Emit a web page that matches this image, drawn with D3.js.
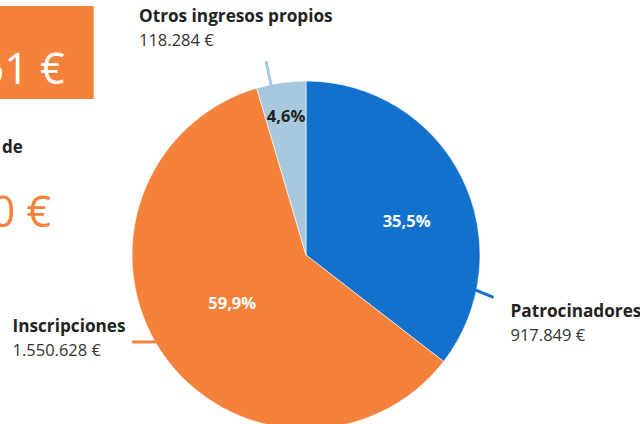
<!DOCTYPE html>
<html>
<head>
<meta charset="utf-8">
<script src="https://cdn.jsdelivr.net/npm/d3@7"></script>
<style>
  html, body { margin: 0; padding: 0; background: #fff; }
  svg { display: block; font-family: "Open Sans", sans-serif; }
</style>
</head>
<body>
<svg id="chart" width="640" height="424"></svg>
<script>
// ---- data ----
const categories = ["Patrocinadores", "Inscripciones", "Otros ingresos propios"];
const values = [917849, 1550628, 118284];
const colors = ["#1271cd", "#f5823a", "#a7c8dd"];
const percentLabelColors = ["#ffffff", "#ffffff", "#222222"];
const totalText = "2.586.761 €";
const subtitleText = "Presupuesto total de";
const secondAmountText = "2.600.000 €";

// ---- layout (not data) ----
const cx = 306, cy = 255, R = 174;
// connector: start angle on rim (deg clockwise from top), direction (deg, screen), length
const connectors = [
  { a: 101.7, dir: 22.7, len: 17.3, lx: 510.5, ly: 316.5 },
  { a: 240.0, dir: 180, len: 22, lx: 12.5, ly: 331.5 },
  { a: 348.4, dir: 258, len: 22.8, lx: 139, ly: 22.3 }
];
const pctPos = [ { a: 71.6, r: 106 }, { a: 237, r: 88 }, { a: 351.8, r: 140 } ];

const svg = d3.select("#chart");
const total = d3.sum(values);

const fmtNum = v => d3.format(",d")(v).replace(/,/g, ".") + " €";
const fmtPct = p => d3.format(".1f")(p).replace(".", ",") + "%";

// ---- left fragments ----
svg.append("rect").attr("x", -20).attr("y", 6).attr("width", 113.7).attr("height", 93)
  .attr("fill", "#f5823a");
svg.append("text").attr("x", 64.5).attr("y", 84).attr("text-anchor", "end")
  .attr("font-size", 43).attr("font-weight", 400).attr("fill", "#fff").text(totalText);
svg.append("text").attr("x", 22.7).attr("y", 153).attr("text-anchor", "end")
  .attr("font-size", 17).attr("font-weight", 700).attr("fill", "#222").text(subtitleText);
svg.append("text").attr("x", 51).attr("y", 226.7).attr("text-anchor", "end")
  .attr("font-size", 43).attr("font-weight", 400).attr("fill", "#f5823a").text(secondAmountText);

// ---- pie ----
const pie = d3.pie().sort(null).value(d => d)(values);
const arc = d3.arc().innerRadius(0).outerRadius(R);
const g = svg.append("g").attr("transform", `translate(${cx},${cy})`);

g.selectAll("path.slice").data(pie).join("path")
  .attr("class", "slice")
  .attr("d", arc)
  .attr("fill", (d, i) => colors[i])
  .attr("stroke", "#fff").attr("stroke-width", 0.6);

const rad = deg => deg * Math.PI / 180;
// connectors
connectors.forEach((c, i) => {
  const sx = Math.sin(rad(c.a)) * R, sy = -Math.cos(rad(c.a)) * R;
  const ex = sx + Math.cos(rad(c.dir)) * c.len, ey = sy + Math.sin(rad(c.dir)) * c.len;
  g.append("line").attr("x1", sx).attr("y1", sy).attr("x2", ex).attr("y2", ey)
    .attr("stroke", colors[i]).attr("stroke-width", 3).attr("stroke-linecap", "round");
});

// percent labels
pie.forEach((d, i) => {
  const p = pctPos[i];
  g.append("text")
    .attr("x", Math.sin(rad(p.a)) * p.r)
    .attr("y", -Math.cos(rad(p.a)) * p.r)
    .attr("dy", "0.35em")
    .attr("text-anchor", "middle")
    .attr("font-size", 16.5).attr("font-weight", 700)
    .attr("fill", percentLabelColors[i])
    .text(fmtPct(values[i] / total * 100));
});

// outside labels
connectors.forEach((c, i) => {
  const t = svg.append("text").attr("fill", "#222");
  t.append("tspan").attr("x", c.lx).attr("y", c.ly)
    .attr("font-size", 17.2).attr("font-weight", 700).text(categories[i]);
  t.append("tspan").attr("x", c.lx).attr("y", c.ly + 24)
    .attr("font-size", 16.5).attr("font-weight", 400).attr("fill", "#333").text(fmtNum(values[i]));
});
</script>
</body>
</html>
